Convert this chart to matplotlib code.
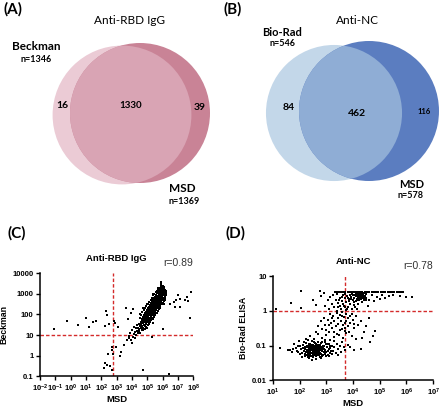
import numpy as np
import matplotlib
matplotlib.use("Agg")
import matplotlib.pyplot as plt
from matplotlib.patches import Circle

# ---- venn data ----
rbd_sets = ["Beckman", "MSD"]
rbd_n = [1346, 1369]
rbd_counts = [16, 1330, 39]          # only left, both, only right
nc_sets = ["Bio-Rad", "MSD"]
nc_n = [546, 578]
nc_counts = [84, 462, 116]

# ---- scatter data (log10 values) ----
# panel C: x = log10(MSD), y = log10(Beckman)
rbd_points = [
    (-1.07, 1.28), (-0.22, 1.69), (0.46, 1.49), (1.0, 1.85), (1.17, 1.37), (1.48, 1.63),
    (1.65, 1.69), (2.3, 2.17), (2.39, 1.96), (2.26, 1.45), (2.5, 1.53), (2.85, 1.69),
    (2.89, 1.6), (3.1, 1.4), (3.6, 2.33), (3.72, 1.8), (4.09, 2.28), (3.91, 2.08),
    (2.67, 0.28), (2.74, 0.09), (2.72, 0.44), (2.41, 0.07), (2.24, -0.36), (2.35, -0.47),
    (2.57, -0.52), (2.67, -0.68), (2.17, -0.6), (3.2, -0.04), (3.3, 0.2), (2.98, 0.44),
    (3.65, 0.76), (3.48, 0.52), (3.83, 0.84), (3.98, 0.6), (4.74, -0.71), (6.43, -0.87),
    (5.28, 0.92), (6.04, 1.28), (7.02, 2.93), (7.17, 2.77), (7.57, 2.85), (7.89, 3.09),
    (7.67, 2.66), (7.78, 1.85), (6.74, 2.61), (7.13, 2.37), (5.91, 3.55), (6.91, 2.69),
    (7.46, 2.69), (6.52, 2.53), (6.8, 2.37), (5.87, 3.49), (5.74, 3.25), (6.02, 3.3),
    (3.82, 0.95), (3.9, 1.12), (3.97, 0.78), (4.02, 1.25), (4.06, 0.92), (4.11, 1.05),
    (4.14, 1.38), (4.18, 0.86), (4.22, 1.15), (4.26, 1.32), (4.29, 0.98), (4.33, 1.22),
    (4.36, 1.48), (4.38, 1.08), (4.41, 1.35), (4.44, 1.18), (4.46, 1.56), (4.49, 1.28),
    (4.52, 1.42), (4.54, 1.12), (4.57, 1.63), (4.59, 1.35),
    (4.61, 1.52), (4.63, 1.78), (4.65, 1.26), (4.67, 1.66), (4.69, 1.45), (4.71, 1.88),
    (4.72, 1.58), (4.74, 1.35), (4.76, 1.72), (4.77, 1.96), (4.79, 1.49), (4.8, 1.81),
    (4.82, 1.63), (4.83, 2.05), (4.85, 1.42), (4.86, 1.74), (4.88, 1.92), (4.89, 1.58),
    (4.9, 2.12), (4.92, 1.68), (4.93, 1.86), (4.95, 1.52), (4.96, 2.02), (4.97, 1.76),
    (4.99, 2.21), (5.0, 1.64), (5.01, 1.93), (5.03, 2.08), (5.04, 1.79), (5.05, 2.31),
    (5.07, 1.88), (5.08, 1.61), (5.09, 2.16), (5.1, 1.98), (5.12, 2.38), (5.13, 1.83),
    (5.14, 2.05), (5.16, 2.26), (5.17, 1.71), (5.18, 1.95), (5.2, 2.44), (5.21, 2.13),
    (5.22, 1.89), (5.24, 2.32), (5.25, 2.02), (5.26, 2.55), (5.28, 2.21), (5.29, 1.84),
    (5.3, 2.41), (5.31, 2.09), (5.33, 2.62), (5.34, 2.28), (5.35, 1.97), (5.37, 2.47),
    (5.38, 2.16), (5.39, 2.71), (5.41, 2.35), (5.42, 2.04), (5.43, 2.58), (5.45, 2.25),
    (5.46, 2.79), (5.47, 2.43), (5.49, 2.12), (5.5, 2.66), (5.51, 2.34), (5.53, 2.87),
    (5.54, 2.52), (5.55, 2.21), (5.57, 2.74), (5.58, 2.41), (5.59, 2.95), (5.61, 2.6),
    (5.62, 2.29), (5.63, 2.82), (5.65, 2.49), (5.66, 3.02), (5.67, 2.68), (5.69, 2.37),
    (5.7, 2.9), (5.71, 2.57), (5.73, 3.08), (5.74, 2.76), (5.75, 2.45), (5.77, 2.97),
    (5.78, 2.64), (5.79, 3.15), (5.81, 2.83), (5.82, 2.52), (5.83, 3.04), (5.85, 2.72),
    (5.86, 3.21), (5.87, 2.9), (5.89, 2.6), (5.9, 3.1), (5.91, 2.79), (5.93, 3.27),
    (5.94, 2.97), (5.95, 2.68), (5.97, 3.16), (5.98, 2.86), (5.99, 3.33), (6.01, 3.03),
    (6.02, 2.75), (6.04, 3.2), (6.05, 2.93), (6.06, 3.38), (6.08, 3.1), (6.1, 2.82),
    (6.12, 3.25), (6.14, 3.0), (6.17, 2.88), (6.2, 3.12),
    (5.23, 2.18), (5.27, 2.4), (5.32, 2.3), (5.36, 2.55), (5.4, 2.42), (5.44, 2.38),
    (5.48, 2.6), (5.52, 2.5), (5.56, 2.68), (5.6, 2.55), (5.64, 2.75), (5.68, 2.62),
    (5.72, 2.85), (5.76, 2.7), (5.8, 2.95), (5.84, 2.82), (5.88, 2.98), (5.92, 2.9),
    (5.96, 3.05), (6.0, 2.95), (5.15, 2.12), (5.11, 2.24), (5.06, 2.0), (5.02, 2.13),
    (4.98, 1.9), (4.94, 1.8), (5.19, 2.3), (5.28, 2.5), (5.46, 2.5), (5.62, 2.7),
    (5.78, 2.8), (5.94, 3.1), (5.0, 1.35), (5.35, 1.6), (5.65, 2.05), (5.85, 2.3),
    (6.1, 2.5), (5.1, 2.6), (5.4, 3.0), (5.0, 2.5), (5.7, 3.3), (4.7, 2.3), (4.5, 2.0),
    (4.55, 1.85), (4.6, 1.95), (4.68, 2.1), (4.73, 1.25), (4.78, 2.2), (4.84, 1.3),
    (4.87, 2.3), (4.91, 1.4), (4.95, 2.4), (5.02, 1.48), (5.05, 2.52), (5.11, 1.55),
    (5.14, 2.62), (5.19, 1.62), (5.22, 2.7), (5.27, 1.72), (5.31, 2.82), (5.36, 1.8),
    (5.39, 2.92), (5.44, 1.88), (5.47, 3.0), (5.52, 1.98), (5.55, 3.08), (5.6, 2.08),
    (5.63, 3.15), (5.68, 2.15), (5.72, 3.22), (5.77, 2.25), (5.8, 3.3), (5.86, 2.4),
    (5.9, 3.38), (5.96, 2.5), (6.03, 2.55), (6.07, 2.65), (6.11, 3.35), (6.15, 2.7),
    (6.18, 3.2), (6.22, 2.95), (6.25, 3.05), (6.13, 3.12), (6.16, 2.8),
    (4.75, 1.62), (4.81, 1.7), (4.87, 1.82), (4.93, 1.95), (4.99, 2.05), (5.04, 2.18),
    (5.09, 2.28), (5.14, 2.35), (5.19, 2.05), (5.24, 2.45), (5.29, 2.35), (5.34, 2.45),
    (5.39, 2.6), (5.44, 2.52), (5.49, 2.72), (5.54, 2.65), (5.59, 2.82), (5.64, 2.9),
    (5.69, 2.82), (5.74, 2.95), (5.79, 3.02), (5.84, 2.95), (5.89, 3.2), (5.94, 2.8),
    (5.99, 3.1), (6.04, 3.08), (6.09, 2.98), (5.25, 2.3), (5.33, 2.2), (5.42, 2.3),
    (5.5, 2.45), (5.58, 2.62), (5.66, 2.55), (5.74, 2.62), (5.82, 2.75), (5.9, 2.92),
    (5.98, 2.98), (5.06, 1.72), (5.16, 1.85), (5.26, 1.95), (5.36, 2.05), (5.46, 2.18),
    (5.56, 2.3), (5.66, 2.4), (5.76, 2.5),
]

# panel D: x = log10(MSD), y = log10(Bio-Rad ELISA)
nc_points = [
    (2.05, -1.1), (2.1, -1.22), (2.12, -0.98), (2.15, -1.15), (2.18, -1.3), (2.2, -1.05),
    (2.22, -1.18), (2.24, -0.92), (2.26, -1.27), (2.28, -1.12), (2.3, -1.02), (2.31, -1.2),
    (2.33, -1.35), (2.35, -1.08), (2.36, -0.95), (2.38, -1.17), (2.4, -1.28), (2.41, -1.04),
    (2.43, -1.14), (2.45, -0.88), (2.46, -1.22), (2.48, -1.33), (2.5, -1.09), (2.51, -0.99),
    (2.53, -1.19), (2.55, -1.26), (2.56, -1.06), (2.58, -0.93), (2.6, -1.15), (2.61, -1.3),
    (2.63, -1.02), (2.65, -1.21), (2.66, -1.11), (2.68, -0.9), (2.7, -1.25), (2.71, -1.07),
    (2.73, -1.17), (2.75, -1.34), (2.76, -0.97), (2.78, -1.13), (2.8, -1.23), (2.81, -1.03),
    (2.83, -1.16), (2.85, -0.91), (2.86, -1.28), (2.88, -1.08), (2.9, -1.19), (2.92, -1.0),
    (2.94, -1.24), (2.96, -1.12), (2.98, -0.94), (3.0, -1.18), (3.02, -1.05), (3.05, -1.27),
    (3.08, -1.1), (3.1, -0.96), (3.13, -1.2),
    (2.32, -1.12), (2.37, -1.0), (2.42, -1.2), (2.47, -1.1), (2.52, -1.15), (2.57, -1.02),
    (2.62, -1.18), (2.67, -1.05), (2.72, -1.12), (2.77, -1.2), (2.44, -1.06), (2.54, -1.24),
    (2.64, -1.13), (2.74, -1.02), (2.34, -1.25), (2.29, -1.16), (2.59, -1.1), (2.69, -1.16),
    (2.49, -1.19), (2.39, -1.1), (2.45, -1.4), (2.6, -1.38), (2.8, -1.36), (2.3, -1.33),
    (1.95, -1.18), (2.02, -1.0), (2.08, -1.32), (2.13, -1.08), (2.17, -0.9), (2.21, -1.25),
    (2.27, -1.05), (2.32, -0.85), (2.36, -1.3), (2.4, -0.95), (2.44, -1.3), (2.47, -0.98),
    (2.51, -1.27), (2.55, -0.9), (2.58, -1.22), (2.62, -0.95), (2.66, -1.28), (2.7, -0.98),
    (2.74, -1.27), (2.78, -0.92), (2.82, -1.3), (2.86, -1.0), (2.9, -1.1), (2.94, -0.9),
    (2.98, -1.3), (3.02, -0.95), (3.06, -1.15), (3.1, -1.3), (3.14, -1.0), (3.18, -1.15),
    (2.35, -1.15), (2.45, -1.12), (2.55, -1.12), (2.65, -1.08), (2.75, -1.1), (2.85, -1.14),
    (2.4, -1.06), (2.5, -1.03), (2.6, -1.06), (2.7, -1.2), (2.8, -1.08), (2.5, -1.22),
    (2.6, -1.24), (2.38, -1.22), (2.28, -1.0), (2.18, -1.1),
    (1.8, -0.95), (1.85, -1.08), (1.9, -1.15), (1.95, -1.02), (2.0, -1.25), (1.75, -1.1),
    (1.65, -1.12), (1.55, -1.12), (1.25, -1.08), (1.7, -1.18), (1.98, -0.88),
    (3.15, -1.08), (3.2, -1.0), (3.25, -1.15), (3.3, -1.05), (3.35, -1.22), (3.4, -0.95),
    (3.45, -1.1), (3.5, -1.0), (3.55, -1.18), (3.6, -0.9), (3.65, -1.05), (3.7, -1.12),
    (3.8, -0.98), (3.9, -1.05), (3.2, -1.25), (3.3, -0.88), (3.42, -1.28), (4.05, -1.12),
    (4.3, -1.1),
    (2.25, -0.8), (2.4, -0.72), (2.55, -0.82), (2.7, -0.68), (2.85, -0.78), (3.0, -0.7),
    (3.15, -0.84), (3.3, -0.75), (2.95, -0.85), (3.1, -0.62), (2.6, -0.6), (3.4, -0.66),
    (2.7, -0.45), (2.8, -0.3), (2.85, -0.52), (2.9, -0.2), (2.95, -0.4), (3.0, -0.55),
    (3.05, -0.25), (3.1, -0.42), (3.12, -0.1), (3.18, -0.35), (3.22, -0.5), (3.25, -0.15),
    (3.3, -0.3), (3.35, -0.45), (3.38, -0.05), (3.42, -0.22), (3.45, -0.38), (3.5, -0.12),
    (3.52, -0.55), (3.55, -0.28), (3.6, -0.02), (3.62, -0.4), (3.65, -0.18), (3.7, -0.5),
    (3.72, -0.3), (3.75, -0.08), (3.8, -0.45), (3.82, -0.2), (3.85, -0.6), (3.9, -0.35),
    (3.95, -0.1), (4.0, -0.25), (4.05, -0.5), (4.1, -0.15), (4.2, -0.4), (4.3, -0.3),
    (4.4, -0.6), (4.5, -0.45), (4.6, -0.2), (4.75, -0.72), (4.81, -0.58), (4.62, -0.9),
    (4.35, -0.78), (4.1, -0.82), (3.58, -0.52), (3.68, -0.58),
    (3.28, -0.6), (3.48, -0.7), (3.62, -0.78), (3.75, -0.65), (3.95, -0.72), (3.2, -0.2),
    (3.4, 0.0), (3.58, -0.15), (3.78, 0.05), (3.68, -0.35), (3.88, -0.15), (4.02, -0.38),
    (4.15, 0.05), (3.5, 0.15), (3.7, 0.1),
    (2.95, 0.15), (3.05, 0.3), (3.1, 0.05), (3.15, 0.4), (3.2, 0.2), (3.25, 0.45),
    (3.3, 0.1), (3.35, 0.32), (3.4, 0.48), (3.45, 0.22), (3.5, 0.38), (3.55, 0.05),
    (3.6, 0.28), (3.62, 0.45), (3.65, 0.15), (3.7, 0.36), (3.72, 0.02), (3.75, 0.25),
    (3.78, 0.42), (3.82, 0.12), (3.85, 0.33), (3.88, 0.47), (3.9, 0.2), (3.92, 0.4),
    (3.95, 0.05), (3.98, 0.3), (4.0, 0.45), (4.02, 0.18), (4.05, 0.38), (4.08, 0.1),
    (4.1, 0.28), (4.12, 0.48), (4.15, 0.35), (4.18, 0.2), (4.2, 0.44), (4.22, 0.3),
    (4.25, 0.47), (4.27, 0.38), (4.3, 0.42), (4.32, 0.25), (4.35, 0.46), (4.38, 0.36),
    (4.4, 0.5), (4.42, 0.3), (4.45, 0.44), (4.5, 0.38), (4.55, 0.15), (4.6, 0.32),
    (4.7, 0.45), (4.8, 0.28), (4.9, 0.4), (5.0, 0.35), (5.1, 0.45), (5.2, 0.38),
    (5.35, 0.42), (5.5, 0.46), (5.75, 0.43), (6.0, 0.41), (6.19, 0.39), (4.28, 0.5),
    (4.33, 0.5), (4.18, 0.49), (4.23, 0.5), (4.26, 0.44), (4.3, 0.48), (4.37, 0.45),
    (4.24, 0.4), (4.2, 0.5), (4.16, 0.45),
    (4.13, 0.42), (4.17, 0.3), (4.21, 0.38), (4.29, 0.33), (4.34, 0.4), (4.39, 0.44),
    (4.43, 0.38), (4.47, 0.48), (4.25, 0.52), (4.31, 0.52), (4.36, 0.52), (4.41, 0.52),
    (4.22, 0.46), (4.28, 0.45), (4.32, 0.46), (4.19, 0.41), (4.14, 0.5), (4.09, 0.42),
    (4.06, 0.47), (4.48, 0.32), (3.97, 0.48), (4.03, 0.25), (3.93, 0.35), (3.86, 0.28),
    (3.8, 0.38), (3.68, 0.48), (3.58, 0.4), (3.48, 0.3), (3.42, 0.12), (3.62, 0.2),
    (2.06, 0.56), (1.66, 0.22), (2.04, 0.08), (2.75, 0.56), (1.1, 0.06), (2.5, 0.3),
    (2.8, 0.42), (2.6, 0.18), (2.9, 0.5),
    (3.31, 0.54), (3.38, 0.54), (3.47, 0.54), (3.55, 0.54), (3.64, 0.54), (3.71, 0.54),
    (3.8, 0.54), (3.87, 0.54), (3.96, 0.54), (4.03, 0.54), (4.11, 0.54), (4.19, 0.54),
    (4.27, 0.54), (4.35, 0.54), (4.44, 0.54), (4.52, 0.54), (4.6, 0.54), (4.69, 0.54),
    (4.77, 0.54), (4.86, 0.54), (4.94, 0.54), (5.03, 0.54), (5.12, 0.54), (5.2, 0.54),
    (5.29, 0.54), (5.37, 0.54), (5.46, 0.54), (5.55, 0.54), (5.63, 0.54), (5.72, 0.54),
    (5.8, 0.54), (5.88, 0.54),
]

rbd_cut = (600, 10)     # MSD cutoff, Beckman cutoff
nc_cut = (5000, 1)
rbd_r = 0.89
nc_r = 0.78

VENN_FONT = ["Lato", "DejaVu Sans"]
SC_FONT = ["Liberation Sans", "DejaVu Sans"]
plt.rcParams["mathtext.fontset"] = "custom"
plt.rcParams["mathtext.bf"] = "Liberation Sans:bold"
plt.rcParams["mathtext.rm"] = "Liberation Sans:bold"

fig = plt.figure(figsize=(4.4, 4.09), dpi=100)
bg = fig.add_axes([0, 0, 1, 1])
bg.set_xlim(0, 440)
bg.set_ylim(409, 0)
bg.axis("off")


def venn(centers, ns, colors):
    rmax = 70
    r = [rmax * np.sqrt(n / max(ns)) for n in ns]
    c1 = Circle(centers[0], r[0], fc=colors[0], ec="none")
    c2 = Circle(centers[1], r[1], fc=colors[2], ec="none")
    bg.add_patch(c1)
    bg.add_patch(c2)
    ov = Circle(centers[0], r[0], fc=colors[1], ec="none")
    bg.add_patch(ov)
    ov.set_clip_path(c2)


def txt(x, y, s, size, **kw):
    kw.setdefault("weight", "bold")
    kw.setdefault("family", VENN_FONT)
    kw.setdefault("ha", "center")
    bg.text(x, y, s, fontsize=size, va="center", **kw)


# panel A
venn([(122, 115), (140, 113)], rbd_n, ["#ebcbd5", "#d9a4b4", "#c98396"])
txt(3, 9, "(A)", 11, ha="left")
txt(130, 20, "Anti-RBD IgG", 8.5, weight="normal")
txt(36, 47, rbd_sets[0], 8.5)
txt(36, 60, f"n={rbd_n[0]}", 6.5)
txt(62, 105, str(rbd_counts[0]), 7.5)
txt(131, 105, str(rbd_counts[1]), 7)
txt(200, 108, str(rbd_counts[2]), 7.5)
txt(182, 189, rbd_sets[1], 8.5)
txt(184, 202, f"n={rbd_n[1]}", 6.5)

# panel B
venn([(334, 113), (369, 111)], nc_n, ["#c3d7e9", "#8fadd5", "#5b7dc0"])
txt(223, 9, "(B)", 11, ha="left")
txt(357, 20, "Anti-NC", 8.5, weight="normal")
txt(282, 32, nc_sets[0], 8)
txt(283, 44, f"n={nc_n[0]}", 6.5)
txt(289, 108, str(nc_counts[0]), 7.5)
txt(357, 114, str(nc_counts[1]), 7.5)
txt(424, 111, str(nc_counts[2]), 5.5)
txt(412, 184, nc_sets[1], 8)
txt(411, 195, f"n={nc_n[1]}", 6.5)

txt(8, 233, "(C)", 11, ha="left")
txt(225, 233, "(D)", 11, ha="left")


def scatter_panel(rect, pts, xlim, ylim, xt, ylabels, cut, title, r, xlabel, ylabel):
    ax = fig.add_axes(rect)
    lx, ly = zip(*pts)
    ax.scatter(np.power(10.0, lx), np.power(10.0, ly), s=0.9, c="black",
               marker="s", linewidths=0, zorder=3)
    ax.set_xscale("log")
    ax.set_yscale("log")
    ax.set_xlim(xlim)
    ax.set_ylim(ylim)
    ax.axvline(cut[0], color="#d42a2a", ls=(0, (2.5, 1.5)), lw=1, zorder=2)
    ax.axhline(cut[1], color="#d42a2a", ls=(0, (2.5, 1.5)), lw=1, zorder=2)
    ax.set_xticks([10.0 ** e for e in xt])
    ax.set_xticklabels([rf"$\mathbf{{10^{{{e}}}}}$" for e in xt])
    yt = [float(v) for v in ylabels]
    ax.set_yticks(yt)
    ax.set_yticklabels(ylabels, fontweight="bold", family=SC_FONT)
    ax.minorticks_off()
    for s in ["top", "right"]:
        ax.spines[s].set_visible(False)
    for s in ["left", "bottom"]:
        ax.spines[s].set_linewidth(1.1)
    ax.tick_params(axis="both", length=3, width=1, labelsize=5.5, pad=1.5)
    ax.set_title(title, fontsize=6.8, weight="bold", family=SC_FONT, pad=9)
    ax.text(1.0, 1.05, f"r={r}", transform=ax.transAxes, ha="right", va="bottom",
            fontsize=7.5, color="#333333", family=SC_FONT)
    ax.set_xlabel(xlabel, fontsize=6.8, weight="bold", family=SC_FONT, labelpad=1)
    ax.set_ylabel(ylabel, fontsize=6.3, weight="bold", family=SC_FONT, labelpad=3)
    return ax


scatter_panel([0.091, 0.08, 0.348, 0.252], rbd_points, (1e-2, 1e8), (0.1, 10000),
              list(range(-2, 9)), ["10000", "1000", "100", "10", "1", "0.1"],
              rbd_cut, "Anti-RBD IgG", rbd_r, "MSD", "Beckman")
scatter_panel([0.6205, 0.07, 0.364, 0.255], nc_points, (10, 1e7), (0.01, 10),
              list(range(1, 8)), ["10", "1", "0.1", "0.01"],
              nc_cut, "Anti-NC", nc_r, "MSD", "Bio-Rad ELISA")

fig.savefig("out.png", dpi=100)
